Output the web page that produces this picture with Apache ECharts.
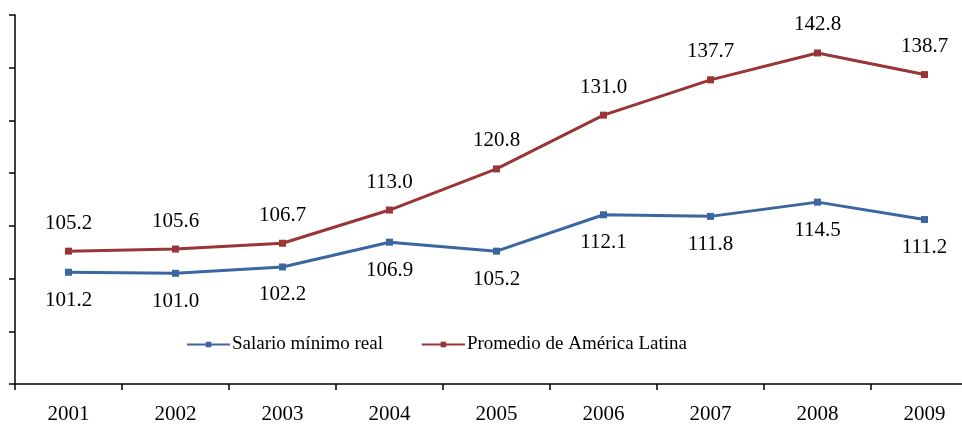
<!DOCTYPE html>
<html><head><meta charset="utf-8">
<script src="https://cdn.jsdelivr.net/npm/echarts@6/dist/echarts.min.js"></script>
<style>html,body{margin:0;padding:0;background:#fff}#c{width:962px;height:429px}</style>
</head><body><div id="c"></div>
<script>
var categories = ['2001','2002','2003','2004','2005','2006','2007','2008','2009'];
var salarioMinimo = [101.2,101.0,102.2,106.9,105.2,112.1,111.8,114.5,111.2];
var promedioAL = [105.2,105.6,106.7,113.0,120.8,131.0,137.7,142.8,138.7];
var seriesNames = ['Salario mínimo real','Promedio de América Latina'];

var FONT = 'Liberation Serif';
var chart = echarts.init(document.getElementById('c'));
chart.setOption({
  animation:false,
  textStyle:{fontFamily:FONT},
  grid:{left:15, top:15, right:-16, bottom:45, containLabel:false, outerBoundsMode:'none'},
  legend:{
    data:seriesNames, left:186, top:335, padding:0, itemWidth:43, itemHeight:7, itemGap:38,
    textStyle:{fontFamily:FONT, fontSize:19, color:'#000', padding:[0,0,0,-3]}
  },
  xAxis:{
    type:'category', data:categories, boundaryGap:true,
    axisLine:{lineStyle:{color:'#000', width:1.5}},
    axisTick:{show:true, length:6, lineStyle:{color:'#000', width:1.5}},
    axisLabel:{fontFamily:FONT, fontSize:21, color:'#000', margin:20}
  },
  yAxis:{
    type:'value', min:80, max:150, interval:10,
    axisLine:{show:true, lineStyle:{color:'#000', width:1.5}},
    axisTick:{show:true, inside:false, length:6, lineStyle:{color:'#000', width:1.5}},
    axisLabel:{show:false}, splitLine:{show:false}
  },
  series:[
    {name:seriesNames[0], type:'line', data:salarioMinimo, color:'#3A67A0',
     symbol:'rect', symbolSize:7, lineStyle:{width:3},
     label:{show:true, position:'bottom', distance:14, fontFamily:FONT, fontSize:21, color:'#000', formatter:function(p){return p.value.toFixed(1);}}},
    {name:seriesNames[1], type:'line', data:promedioAL, color:'#9A3535',
     symbol:'rect', symbolSize:7, lineStyle:{width:3},
     label:{show:true, position:'top', distance:14, fontFamily:FONT, fontSize:21, color:'#000', formatter:function(p){return p.value.toFixed(1);}}}
  ]
});
</script></body></html>
